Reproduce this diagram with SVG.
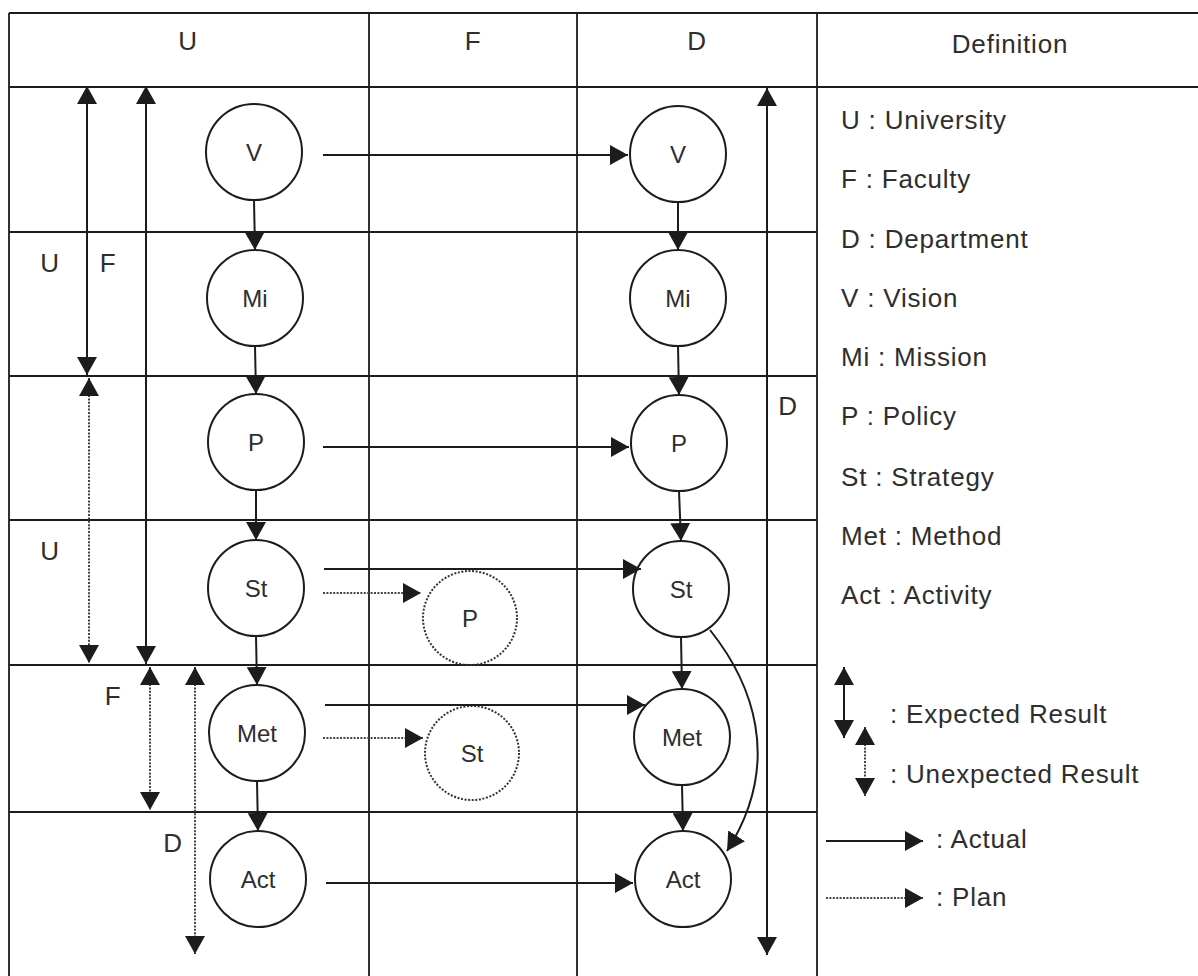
<svg xmlns="http://www.w3.org/2000/svg" width="1198" height="976" viewBox="0 0 1198 976">
  <style>
    .grid { stroke: #1c1c1c; stroke-width: 1.8; fill: none; }
    .node { fill: #ffffff; stroke: #1c1c1c; stroke-width: 2; }
    .plan-node { fill: none; stroke: #333333; stroke-width: 2; stroke-dasharray: 2 1.6; }
    .solid { stroke: #1c1c1c; stroke-width: 2; fill: none; }
    .dotted { stroke: #444444; stroke-width: 2; fill: none; stroke-dasharray: 2 1.4; }
    .lbl { font-family: "Liberation Sans", Arial, sans-serif; font-size: 26px; fill: #2e2e2e; letter-spacing: 0.8px; }
    .nlbl { font-family: "Liberation Sans", Arial, sans-serif; font-size: 24px; fill: #2e2e2e; text-anchor: middle; }
    .mid { text-anchor: middle; }
  </style>
  <defs>
    <marker id="head" viewBox="0 0 18 20" markerWidth="18" markerHeight="20" refX="18" refY="10" orient="auto-start-reverse" markerUnits="userSpaceOnUse">
      <path d="M0,0 L18,10 L0,20 Z" fill="#1c1c1c"/>
    </marker>
  </defs>

  <!-- table frame and grid -->
  <g id="table">
    <path class="grid" d="M9,13 H1198 M9,87 H1198 M9,13 V976 M369,13 V976 M577,13 V976 M817,13 V976"/>
    <path class="grid" d="M9,232 H817 M9,376 H817 M9,520 H817 M9,665 H817 M9,812 H817"/>
  </g>

  <!-- column headers -->
  <g id="headers">
    <text class="lbl mid" x="188" y="50">U</text>
    <text class="lbl mid" x="473" y="50">F</text>
    <text class="lbl mid" x="697" y="50">D</text>
    <text class="lbl mid" x="1010" y="53">Definition</text>
  </g>

  <!-- university column -->
  <g id="u-v"><circle class="node" cx="254" cy="152" r="48"/><text class="nlbl" x="254" y="161">V</text></g>
  <g id="u-mi"><circle class="node" cx="255" cy="298" r="48"/><text class="nlbl" x="255" y="307">Mi</text></g>
  <g id="u-p"><circle class="node" cx="256" cy="442" r="48"/><text class="nlbl" x="256" y="451">P</text></g>
  <g id="u-st"><circle class="node" cx="256" cy="588" r="48"/><text class="nlbl" x="256" y="597">St</text></g>
  <g id="u-met"><circle class="node" cx="257" cy="733" r="48"/><text class="nlbl" x="257" y="742">Met</text></g>
  <g id="u-act"><circle class="node" cx="258" cy="879" r="48"/><text class="nlbl" x="258" y="888">Act</text></g>

  <!-- faculty column (planned) -->
  <g id="f-p"><circle class="plan-node" cx="470" cy="618" r="47"/><text class="nlbl" x="470" y="627">P</text></g>
  <g id="f-st"><circle class="plan-node" cx="472" cy="753" r="47"/><text class="nlbl" x="472" y="762">St</text></g>

  <!-- department column -->
  <g id="d-v"><circle class="node" cx="678" cy="154" r="48"/><text class="nlbl" x="678" y="163">V</text></g>
  <g id="d-mi"><circle class="node" cx="678" cy="298" r="48"/><text class="nlbl" x="678" y="307">Mi</text></g>
  <g id="d-p"><circle class="node" cx="679" cy="443" r="48"/><text class="nlbl" x="679" y="452">P</text></g>
  <g id="d-st"><circle class="node" cx="681" cy="589" r="48"/><text class="nlbl" x="681" y="598">St</text></g>
  <g id="d-met"><circle class="node" cx="682" cy="737" r="48"/><text class="nlbl" x="682" y="746">Met</text></g>
  <g id="d-act"><circle class="node" cx="683" cy="879" r="48"/><text class="nlbl" x="683" y="888">Act</text></g>

  <!-- connectors -->
  <g id="connectors">
    <!-- university chain -->
    <path class="solid" marker-end="url(#head)" d="M254,200 L255,250"/>
    <path class="solid" marker-end="url(#head)" d="M255,346 L256,394"/>
    <path class="solid" marker-end="url(#head)" d="M256,490 L256,540"/>
    <path class="solid" marker-end="url(#head)" d="M256,636 L257,685"/>
    <path class="solid" marker-end="url(#head)" d="M257,781 L258,831"/>
    <!-- department chain -->
    <path class="solid" marker-end="url(#head)" d="M678,202 L678,250"/>
    <path class="solid" marker-end="url(#head)" d="M678,346 L679,395"/>
    <path class="solid" marker-end="url(#head)" d="M679,491 L681,541"/>
    <path class="solid" marker-end="url(#head)" d="M681,637 L682,689"/>
    <path class="solid" marker-end="url(#head)" d="M682,785 L683,831"/>
    <!-- actual links -->
    <path class="solid" marker-end="url(#head)" d="M323,155 H628"/>
    <path class="solid" marker-end="url(#head)" d="M323,447 H629"/>
    <path class="solid" marker-end="url(#head)" d="M324,569 H641"/>
    <path class="solid" marker-end="url(#head)" d="M325,705 H645"/>
    <path class="solid" marker-end="url(#head)" d="M326,883 H633"/>
    <path class="solid" marker-end="url(#head)" d="M710,630 C750,680 785,760 727,851"/>
    <!-- planned links -->
    <path class="dotted" marker-end="url(#head)" d="M323,593 H421"/>
    <path class="dotted" marker-end="url(#head)" d="M323,738 H423"/>
    <!-- result spans -->
    <path class="solid" marker-start="url(#head)" marker-end="url(#head)" d="M87,86 V375"/>
    <path class="solid" marker-start="url(#head)" marker-end="url(#head)" d="M146,86 V664"/>
    <path class="dotted" marker-start="url(#head)" marker-end="url(#head)" d="M89,378 V663"/>
    <path class="dotted" marker-start="url(#head)" marker-end="url(#head)" d="M150,667 V810"/>
    <path class="dotted" marker-start="url(#head)" marker-end="url(#head)" d="M195,667 V954"/>
    <path class="solid" marker-start="url(#head)" marker-end="url(#head)" d="M767,88 V955"/>
  </g>

  <!-- span labels -->
  <g id="span-labels">
    <text class="lbl mid" x="50" y="272">U</text>
    <text class="lbl mid" x="108" y="272">F</text>
    <text class="lbl mid" x="50" y="560">U</text>
    <text class="lbl mid" x="113" y="705">F</text>
    <text class="lbl mid" x="173" y="852">D</text>
    <text class="lbl mid" x="788" y="415">D</text>
  </g>

  <!-- definitions -->
  <g id="definitions">
    <text class="lbl" x="841" y="129">U : University</text>
    <text class="lbl" x="841" y="188">F : Faculty</text>
    <text class="lbl" x="841" y="248">D : Department</text>
    <text class="lbl" x="841" y="307">V : Vision</text>
    <text class="lbl" x="841" y="366">Mi : Mission</text>
    <text class="lbl" x="841" y="425">P : Policy</text>
    <text class="lbl" x="841" y="486">St : Strategy</text>
    <text class="lbl" x="841" y="545">Met : Method</text>
    <text class="lbl" x="841" y="604">Act : Activity</text>
  </g>

  <!-- legend -->
  <g id="legend">
    <path class="solid" marker-start="url(#head)" marker-end="url(#head)" d="M844,667 V738"/>
    <text class="lbl" x="890" y="723">: Expected Result</text>
    <path class="dotted" marker-start="url(#head)" marker-end="url(#head)" d="M865,727 V796"/>
    <text class="lbl" x="890" y="783">: Unexpected Result</text>
    <path class="solid" marker-end="url(#head)" d="M826,841 H923"/>
    <text class="lbl" x="936" y="848">: Actual</text>
    <path class="dotted" marker-end="url(#head)" d="M826,898 H923"/>
    <text class="lbl" x="936" y="906">: Plan</text>
  </g>
</svg>
